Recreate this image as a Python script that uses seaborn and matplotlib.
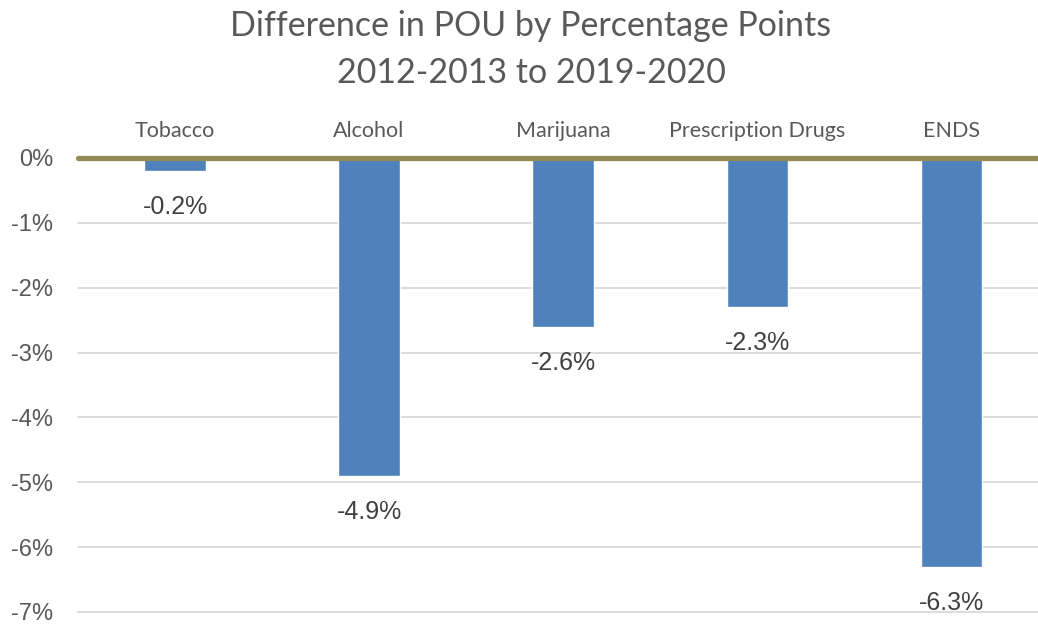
import matplotlib
matplotlib.use("Agg")
import matplotlib.pyplot as plt
import seaborn as sns
import pandas as pd

# Change in prevalence of use, percentage points
categories = ["Tobacco", "Alcohol", "Marijuana", "Prescription Drugs", "ENDS"]
values = [-0.2, -4.9, -2.6, -2.3, -6.3]
y_ticks = [0, -1, -2, -3, -4, -5, -6, -7]
title_lines = ["Difference in POU by Percentage Points", "2012-2013 to 2019-2020"]

df = pd.DataFrame({"category": categories, "value": values})

sns.set_theme(style="white")
plt.rcParams["font.family"] = ["Liberation Sans", "DejaVu Sans"]

fig = plt.figure(figsize=(10.38, 6.24), dpi=100)
ax = fig.add_axes([78 / 1038, 1 - 612 / 624, 1 - 78 / 1038, (612 - 158) / 624])

sns.barplot(data=df, x="category", y="value", color="#4F81BD", saturation=1,
            width=0.315, ax=ax, zorder=3)

ax.set_xlim(-0.5, 4.448)
ax.set_ylim(-7.0, 0.0)

# horizontal gridlines
for t in y_ticks[1:]:
    ax.axhline(t, color="#D9D9D9", lw=1.3, zorder=1, clip_on=False)
# zero baseline
ax.axhline(0, color="#948A54", lw=3.8, zorder=4, clip_on=False)

for s in ax.spines.values():
    s.set_visible(False)

ax.set_yticks(y_ticks)
ax.set_yticklabels([f"{t}%" for t in y_ticks], color="#595959", fontsize=17)
ax.tick_params(axis="y", length=0, pad=18)

ax.xaxis.tick_top()
ax.set_xticks(range(len(categories)))
ax.set_xticklabels(categories, color="#595959", fontsize=15.5, family=["Lato", "DejaVu Sans"])
ax.tick_params(axis="x", length=0, pad=12)
ax.set_xlabel("")
ax.set_ylabel("")

# value labels under each bar
for i, v in enumerate(values):
    ax.annotate(f"{v}%", xy=(i, v), xytext=(0, -26), textcoords="offset points",
                ha="center", va="center", fontsize=18, color="#404040")

for k, line in enumerate(title_lines):
    fig.text(531 / 1038, 1 - (26 + 47 * k) / 624, line, ha="center", va="center",
             fontsize=24.5, color="#595959", family=["Lato", "DejaVu Sans"])

fig.savefig("out.png", dpi=100)
